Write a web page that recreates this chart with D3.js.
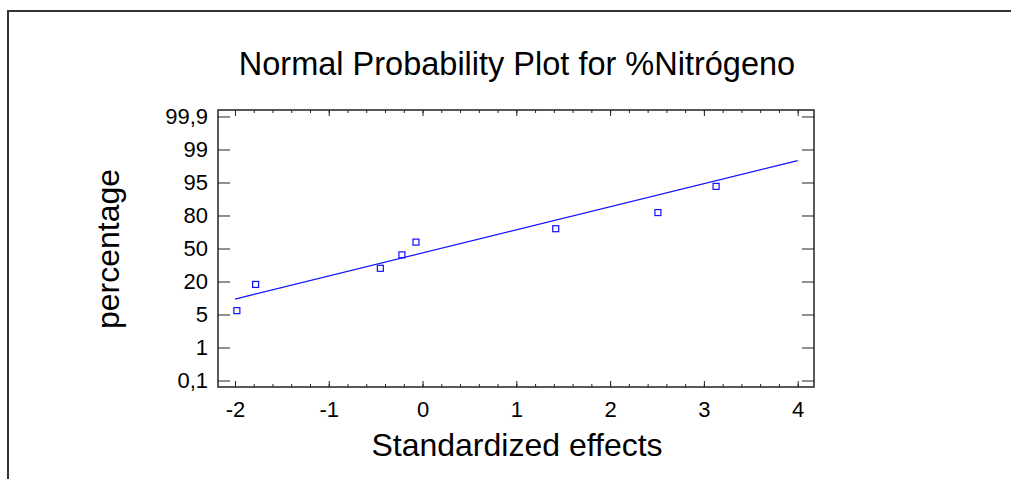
<!DOCTYPE html>
<html>
<head>
<meta charset="utf-8">
<script src="https://cdn.jsdelivr.net/npm/d3@7"></script>
<style>
  body { margin: 0; background: #fff; }
  text { font-family: "Liberation Sans", Arial, sans-serif; fill: #000; }
</style>
</head>
<body>
<div id="chart"></div>
<script>
// effects (x) and plotting percentages (y)
var effectX = [-1.98, -1.78, -0.45, -0.22, -0.07, 1.42, 2.51, 3.13];
var effectPct = [6.25, 18.75, 31.25, 43.75, 56.25, 68.75, 81.25, 93.75];
// fitted reference line, two ends
var fitX = [-2, 4];
var fitPct = [10.6, 98.5];
// axis ticks
var xTicks = [-2, -1, 0, 1, 2, 3, 4];
var yTickLabels = ["0,1", "1", "5", "20", "50", "80", "95", "99", "99,9"];
var yTickStep = 0.815;   // ticks are evenly spaced in normal-score units

// inverse normal cdf (Acklam), percent -> z
function probit(pct) {
  var p = pct / 100;
  var a = [-39.69683028665376, 220.9460984245205, -275.9285104469687, 138.3577518672690, -30.66479806614716, 2.506628277459239],
      b = [-54.47609879822406, 161.5858368580409, -155.6989798598866, 66.80131188771972, -13.28068155288572],
      c = [-0.007784894002430293, -0.3223964580411365, -2.400758277161838, -2.549732539343734, 4.374664141464968, 2.938163982698783],
      d = [0.007784695709041462, 0.3224671290700398, 2.445134137142996, 3.754408661907416];
  var q, r;
  if (p < 0.02425) {
    q = Math.sqrt(-2 * Math.log(p));
    return (((((c[0]*q+c[1])*q+c[2])*q+c[3])*q+c[4])*q+c[5]) / ((((d[0]*q+d[1])*q+d[2])*q+d[3])*q+1);
  } else if (p > 1 - 0.02425) {
    q = Math.sqrt(-2 * Math.log(1 - p));
    return -(((((c[0]*q+c[1])*q+c[2])*q+c[3])*q+c[4])*q+c[5]) / ((((d[0]*q+d[1])*q+d[2])*q+d[3])*q+1);
  }
  q = p - 0.5; r = q * q;
  return (((((a[0]*r+a[1])*r+a[2])*r+a[3])*r+a[4])*r+a[5])*q / (((((b[0]*r+b[1])*r+b[2])*r+b[3])*r+b[4])*r+1);
}

var W = 1011, H = 479;
var margin = {top: 110, right: 197, bottom: 92, left: 218},
    width = W - margin.left - margin.right,
    height = H - margin.top - margin.bottom;

var root = d3.select("#chart").append("svg")
  .attr("width", W).attr("height", H);

// outer frame (top and left edges only visible)
root.append("path")
  .attr("d", "M8," + (H + 5) + "V11H" + (W + 5))
  .attr("fill", "none").attr("stroke", "#333").attr("stroke-width", 2);

var svg = root.append("g")
  .attr("transform", "translate(" + margin.left + "," + margin.top + ")");

var x = d3.scaleLinear().domain([-2.181, 4.174]).range([0, width]);
var y = d3.scaleLinear().domain([-3.42, 3.42]).range([height, 0]);

var yTickZ = yTickLabels.map(function(d, i) { return (i - 4) * yTickStep; });
var minorX = d3.range(-2, 4.0001, 0.2).map(function(v) { return Math.round(v * 10) / 10; });

// minor ticks bottom + top
svg.append("g").attr("transform", "translate(0," + height + ")")
  .call(d3.axisBottom(x).tickValues(minorX).tickSize(-3).tickFormat(""))
  .call(function(g) { g.select(".domain").remove(); });
svg.append("g")
  .call(d3.axisTop(x).tickValues(minorX).tickSize(-3).tickFormat(""))
  .call(function(g) { g.select(".domain").remove(); });

// major x ticks
svg.append("g").attr("transform", "translate(0," + height + ")")
  .call(d3.axisBottom(x).tickValues(xTicks).tickSize(-6).tickPadding(14)
    .tickFormat(function(d) { return String(d); }))
  .call(function(g) {
    g.select(".domain").remove();
    g.selectAll("text").style("font-size", "22px");
  });
svg.append("g")
  .call(d3.axisTop(x).tickValues(xTicks).tickSize(-6).tickFormat(""))
  .call(function(g) { g.select(".domain").remove(); });

// y ticks
svg.append("g")
  .call(d3.axisLeft(y).tickValues(yTickZ).tickSize(-12).tickPadding(10)
    .tickFormat(function(d, i) { return yTickLabels[i]; }))
  .call(function(g) {
    g.select(".domain").remove();
    g.selectAll("text").style("font-size", "22px");
  });
svg.append("g").attr("transform", "translate(" + width + ",0)")
  .call(d3.axisRight(y).tickValues(yTickZ).tickSize(-12).tickFormat(""))
  .call(function(g) { g.select(".domain").remove(); });

svg.selectAll(".tick line").attr("stroke", "#222");

// plot frame
svg.append("rect")
  .attr("width", width).attr("height", height)
  .attr("fill", "none").attr("stroke", "#222").attr("stroke-width", 1.5);

// fitted line
svg.append("line")
  .attr("x1", x(fitX[0])).attr("y1", y(probit(fitPct[0])))
  .attr("x2", x(fitX[1])).attr("y2", y(probit(fitPct[1])))
  .attr("stroke", "#1010ff").attr("stroke-width", 1.2);

// points
svg.append("g").selectAll("rect")
  .data(effectX)
  .enter().append("rect")
  .attr("x", function(d) { return x(d) - 3; })
  .attr("y", function(d, i) { return y(probit(effectPct[i])) - 3; })
  .attr("width", 6).attr("height", 6)
  .attr("fill", "none").attr("stroke", "#1010ff").attr("stroke-width", 1.2);

// title and axis labels
root.append("text")
  .attr("x", 517).attr("y", 75)
  .attr("text-anchor", "middle")
  .style("font-size", "32.5px")
  .text("Normal Probability Plot for %Nitrógeno");

root.append("text")
  .attr("x", 517).attr("y", 456)
  .attr("text-anchor", "middle")
  .style("font-size", "32px")
  .text("Standardized effects");

root.append("text")
  .attr("transform", "translate(119,249) rotate(-90)")
  .attr("text-anchor", "middle")
  .style("font-size", "32px")
  .text("percentage");
</script>
</body>
</html>
